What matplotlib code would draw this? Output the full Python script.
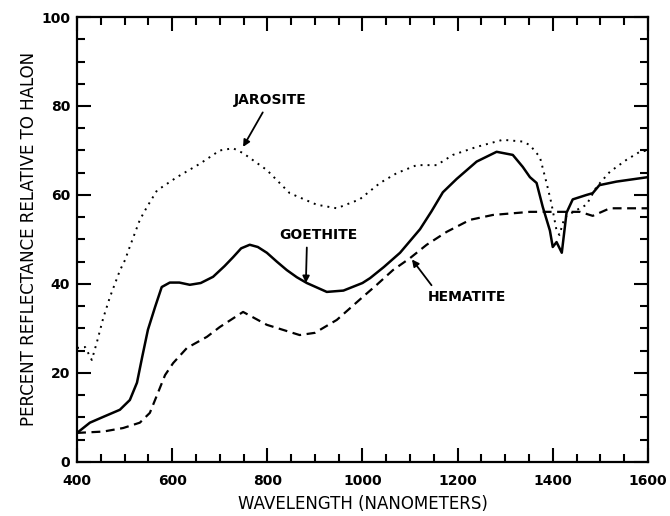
import matplotlib
matplotlib.use("Agg")
import matplotlib.pyplot as plt
from matplotlib.ticker import MultipleLocator

# Goethite (solid)
goe_wl = [400, 427, 455, 490, 511, 526, 537, 549, 564, 578, 595, 615, 637, 660,
          686, 710, 728, 745, 763, 780, 799, 820, 841, 862, 883, 925, 960, 1000,
          1016, 1045, 1079, 1121, 1145, 1169, 1198, 1240, 1282, 1316, 1337, 1352,
          1366, 1379, 1394, 1400, 1408, 1419, 1429, 1442, 1471, 1484, 1498, 1534,
          1600]
goe_r = [6.5, 8.8, 10.1, 11.7, 13.9, 17.8, 23.6, 29.7, 34.8, 39.3, 40.3, 40.3,
         39.8, 40.2, 41.6, 44, 46, 48, 48.8, 48.3, 47, 45, 43.1, 41.5, 40.2, 38.2,
         38.5, 40.2, 41.3, 43.8, 47, 52.3, 56.3, 60.6, 63.6, 67.5, 69.7, 69, 66.3,
         64, 62.7, 57.3, 52, 48.3, 49.4, 47, 56, 59, 60, 60.4, 62.2, 63, 64]

# Jarosite (dotted)
jar_wl = [400, 417, 431, 442, 455, 469, 490, 501, 511, 532, 547, 568, 610, 658,
          700, 728, 749, 799, 847, 904, 946, 994, 1037, 1072, 1114, 1156, 1190,
          1240, 1295, 1337, 1352, 1373, 1387, 1397, 1408, 1414, 1425, 1450, 1471,
          1492, 1520, 1555, 1583, 1600]
jar_r = [25.6, 25.8, 22.9, 27, 32.3, 37, 43, 45.4, 48.4, 54.4, 57.3, 61, 64, 67,
         70, 70.5, 69.4, 65.6, 60.4, 57.8, 57, 59, 62.7, 64.9, 66.7, 66.7, 69,
         70.8, 72.4, 72, 71.2, 68.5, 62.7, 58.2, 52, 51, 55, 56.6, 57.8, 61.8,
         65.2, 67.9, 69.7, 70]

# Hematite (dashed)
hem_wl = [400, 455, 497, 532, 553, 570, 585, 602, 631, 673, 700, 749, 799, 868,
          900, 946, 1001, 1030, 1064, 1100, 1135, 1177, 1226, 1274, 1352, 1422,
          1457, 1484, 1520, 1600]
hem_r = [6.5, 6.8, 7.6, 8.8, 11, 15.5, 19.5, 22.2, 25.6, 28.1, 30.3, 33.7, 30.8,
         28.5, 29, 31.9, 37.1, 39.8, 43.1, 45.8, 48.8, 51.7, 54.4, 55.5, 56.2,
         56.2, 56.2, 55.3, 57, 57]

fig = plt.figure(figsize=(6.7, 5.16), dpi=100)
ax = fig.add_axes([0.115, 0.105, 0.852, 0.862])

ax.plot(goe_wl, goe_r, color="black", lw=1.8, solid_joinstyle="round")
ax.plot(jar_wl, jar_r, color="black", lw=1.4, linestyle=(0, (1, 2.6)))
ax.plot(hem_wl, hem_r, color="black", lw=1.6, linestyle=(0, (4, 2.5)))

ax.set_xlim(400, 1600)
ax.set_ylim(0, 100)
ax.xaxis.set_major_locator(MultipleLocator(200))
ax.xaxis.set_minor_locator(MultipleLocator(50))
ax.yaxis.set_major_locator(MultipleLocator(20))
ax.yaxis.set_minor_locator(MultipleLocator(5))
ax.tick_params(which="both", direction="in", top=True, right=True, width=1.5)
ax.tick_params(which="major", length=10)
ax.tick_params(which="minor", length=6)
ax.tick_params(labelsize=10)
ax.tick_params(axis="x", pad=9)
ax.tick_params(axis="y", pad=5)
for lab in ax.get_xticklabels() + ax.get_yticklabels():
    lab.set_fontweight("bold")
for sp in ax.spines.values():
    sp.set_linewidth(1.6)

ax.set_xlabel("WAVELENGTH (NANOMETERS)", fontsize=12, labelpad=5)
ax.set_ylabel("PERCENT REFLECTANCE RELATIVE TO HALON", fontsize=12, labelpad=2)

arrow = dict(arrowstyle="-|>", color="black", lw=1.3, mutation_scale=10,
             shrinkA=2, shrinkB=0)
ax.annotate("JAROSITE", xy=(749, 70.8), xytext=(805, 81.3), ha="center",
            va="center", fontsize=10, fontweight="bold", arrowprops=arrow)
ax.annotate("GOETHITE", xy=(881, 40.2), xytext=(908, 51), ha="center",
            va="center", fontsize=10, fontweight="bold",
            arrowprops=dict(arrow, relpos=(0.35, 0)))
ax.annotate("HEMATITE", xy=(1104, 45.5), xytext=(1219, 37), ha="center",
            va="center", fontsize=10, fontweight="bold",
            arrowprops=dict(arrow, relpos=(0.1, 1)))

fig.savefig("out.png", dpi=100)
